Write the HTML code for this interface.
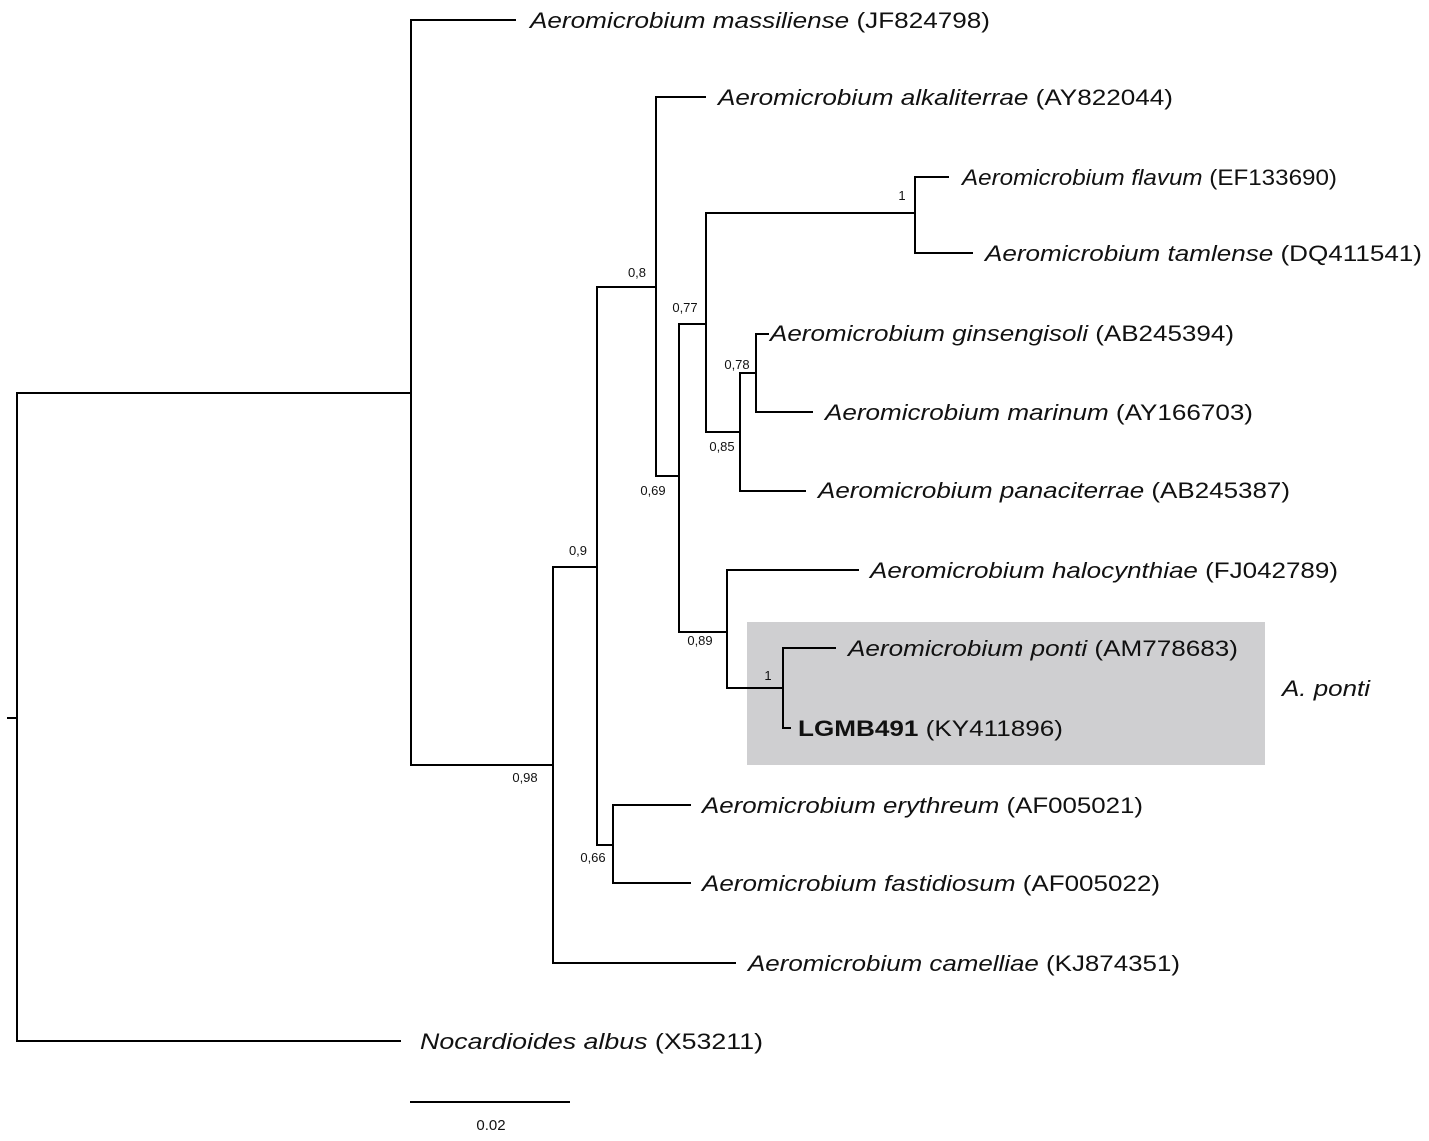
<!DOCTYPE html>
<html><head><meta charset="utf-8"><style>
html,body{margin:0;padding:0;background:#fff}
svg{display:block}
.l{font-family:"Liberation Sans",sans-serif;font-size:22px;fill:#111}
.b{font-family:"Liberation Sans",sans-serif;font-size:13px;fill:#111}
</style></head><body>
<svg width="1429" height="1141" viewBox="0 0 1429 1141" xmlns="http://www.w3.org/2000/svg">
<rect x="747" y="622" width="518" height="143" fill="#cfcfd1"/>
<g stroke="#000" stroke-width="2" fill="none" stroke-linecap="square">
<path d="M8 718H17M17 393V1041M17 393H411M17 1041H400"/>
<path d="M411 20V765M411 20H515M411 765H553"/>
<path d="M553 567V963M553 963H735M553 567H597"/>
<path d="M597 287V845M597 287H656M597 845H613"/>
<path d="M613 805V883M613 805H690M613 883H690"/>
<path d="M656 97V476M656 97H705M656 476H679"/>
<path d="M679 324V632M679 324H706M679 632H727"/>
<path d="M706 213V432M706 213H915M706 432H740"/>
<path d="M915 177V253M915 177H948M915 253H972"/>
<path d="M740 373V491M740 373H756M740 491H805"/>
<path d="M756 334V412M756 334H768M756 412H812"/>
<path d="M727 570V688M727 570H858M727 688H783"/>
<path d="M783 648V728M783 648H835M783 728H790"/>
<path d="M411 1102H569"/>
</g>
<g class="l">
<text x="530" y="28" textLength="460" lengthAdjust="spacingAndGlyphs"><tspan font-style="italic">Aeromicrobium massiliense</tspan> (JF824798)</text>
<text x="718" y="105" textLength="455" lengthAdjust="spacingAndGlyphs"><tspan font-style="italic">Aeromicrobium alkaliterrae</tspan> (AY822044)</text>
<text x="962" y="185" textLength="375" lengthAdjust="spacingAndGlyphs"><tspan font-style="italic">Aeromicrobium flavum</tspan> (EF133690)</text>
<text x="985" y="261" textLength="437" lengthAdjust="spacingAndGlyphs"><tspan font-style="italic">Aeromicrobium tamlense</tspan> (DQ411541)</text>
<text x="770" y="341" textLength="464" lengthAdjust="spacingAndGlyphs"><tspan font-style="italic">Aeromicrobium ginsengisoli</tspan> (AB245394)</text>
<text x="825" y="420" textLength="428" lengthAdjust="spacingAndGlyphs"><tspan font-style="italic">Aeromicrobium marinum</tspan> (AY166703)</text>
<text x="818" y="498" textLength="472" lengthAdjust="spacingAndGlyphs"><tspan font-style="italic">Aeromicrobium panaciterrae</tspan> (AB245387)</text>
<text x="870" y="578" textLength="468" lengthAdjust="spacingAndGlyphs"><tspan font-style="italic">Aeromicrobium halocynthiae</tspan> (FJ042789)</text>
<text x="848" y="656" textLength="390" lengthAdjust="spacingAndGlyphs"><tspan font-style="italic">Aeromicrobium ponti</tspan> (AM778683)</text>
<text x="798" y="736" textLength="265" lengthAdjust="spacingAndGlyphs"><tspan font-weight="bold">LGMB491</tspan> (KY411896)</text>
<text x="1282" y="696" font-style="italic" textLength="88" lengthAdjust="spacingAndGlyphs">A. ponti</text>
<text x="702" y="813" textLength="441" lengthAdjust="spacingAndGlyphs"><tspan font-style="italic">Aeromicrobium erythreum</tspan> (AF005021)</text>
<text x="702" y="891" textLength="458" lengthAdjust="spacingAndGlyphs"><tspan font-style="italic">Aeromicrobium fastidiosum</tspan> (AF005022)</text>
<text x="748" y="971" textLength="432" lengthAdjust="spacingAndGlyphs"><tspan font-style="italic">Aeromicrobium camelliae</tspan> (KJ874351)</text>
<text x="420" y="1049" textLength="343" lengthAdjust="spacingAndGlyphs"><tspan font-style="italic">Nocardioides albus</tspan>  (X53211)</text>
</g>
<g class="b" text-anchor="middle">
<text x="902" y="200">1</text>
<text x="637" y="277">0,8</text>
<text x="685" y="312">0,77</text>
<text x="737" y="369">0,78</text>
<text x="722" y="451">0,85</text>
<text x="653" y="495">0,69</text>
<text x="578" y="555">0,9</text>
<text x="700" y="645">0,89</text>
<text x="768" y="680">1</text>
<text x="525" y="782">0,98</text>
<text x="593" y="862">0,66</text>
<text x="491" y="1130" font-size="15">0.02</text>
</g>
</svg>
</body></html>
